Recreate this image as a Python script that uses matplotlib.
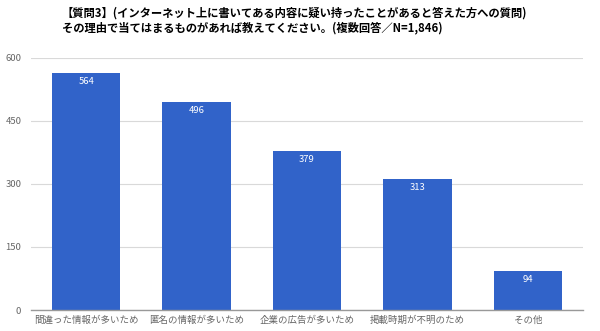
import matplotlib.pyplot as plt
import numpy as np

plt.rcParams['font.family'] = ['Noto Sans CJK JP', 'DejaVu Sans']

categories = ["間違った情報が多いため", "匿名の情報が多いため", "企業の広告が多いため", "掲載時期が不明のため", "その他"]
values = [564, 496, 379, 313, 94]
yticks = [0, 150, 300, 450, 600]
title_lines = ["【質問3】(インターネット上に書いてある内容に疑い持ったことがあると答えた方への質問)",
               "その理由で当てはまるものがあれば教えてください。(複数回答／N=1,846)"]

bar_color = "#3163c9"

fig = plt.figure(figsize=(6.0, 3.31), dpi=100)
ax = fig.add_axes([31 / 600, 1 - 310 / 331, 552 / 600, 252 / 331])

x = np.arange(len(categories))
bars = ax.bar(x, values, width=0.62, color=bar_color, zorder=3)

for b, v in zip(bars, values):
    ax.annotate(str(v), (b.get_x() + b.get_width() / 2, v), xytext=(0, -3),
                textcoords="offset points", ha="center", va="top",
                color="white", fontsize=6.8, zorder=4)

ax.set_xlim(-0.5, len(categories) - 0.5)
ax.set_ylim(0, 600)
ax.set_yticks(yticks)
ax.set_yticklabels([str(t) for t in yticks])
ax.set_xticks(x)
ax.set_xticklabels(categories)

ax.grid(axis="y", color="#d9d9d9", linewidth=0.8, zorder=0)
for s in ["top", "right", "left"]:
    ax.spines[s].set_visible(False)
ax.spines["bottom"].set_color("#999999")
ax.spines["bottom"].set_linewidth(1.0)
ax.spines["bottom"].set_zorder(5)

ax.tick_params(axis="both", length=0, labelsize=6.8, labelcolor="#666666")
ax.tick_params(axis="y", pad=7)
ax.tick_params(axis="x", pad=4)

fig.text(62 / 600, 1 - 13 / 331, title_lines[0], fontsize=8.15, color="black",
         ha="left", va="center", fontweight="bold")
fig.text(62 / 600, 1 - 28 / 331, title_lines[1], fontsize=8.15, color="black",
         ha="left", va="center", fontweight="bold")

fig.savefig("out.png", dpi=100)
